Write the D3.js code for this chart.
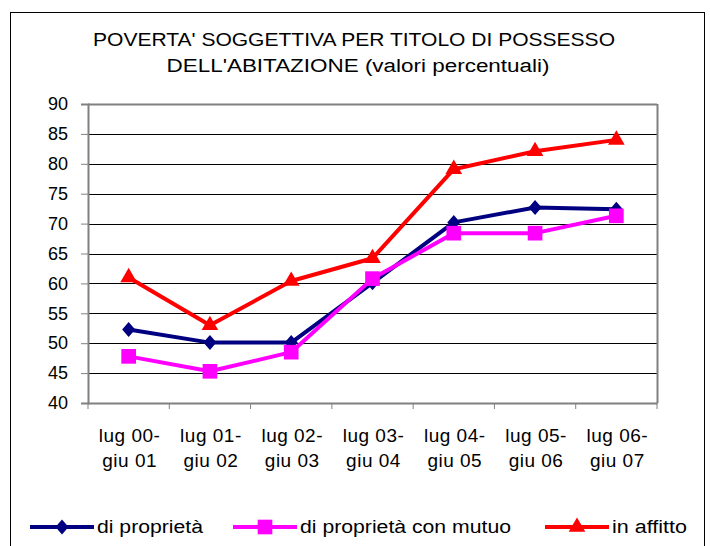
<!DOCTYPE html>
<html>
<head>
<meta charset="utf-8">
<script src="https://cdn.jsdelivr.net/npm/d3@7"></script>
<style>
  body { margin: 0; background: #fff; }
  svg text { font-family: "Liberation Sans", Arial, sans-serif; fill: #000; }
</style>
</head>
<body>
<div id="chart"></div>
<script>
const width = 710;
const height = 546;

// data
const categories = ['lug 00-|giu 01', 'lug 01-|giu 02', 'lug 02-|giu 03', 'lug 03-|giu 04',
                    'lug 04-|giu 05', 'lug 05-|giu 06', 'lug 06-|giu 07'];
const diProprieta = [52.3, 50.1, 50.1, 60.1, 70.2, 72.7, 72.4];
const conMutuo = [47.8, 45.3, 48.5, 60.8, 68.4, 68.4, 71.3];
const inAffitto = [61.0, 53.0, 60.4, 64.2, 79.1, 82.1, 84.0];
const yTicks = [40, 45, 50, 55, 60, 65, 70, 75, 80, 85, 90];

const series = [
  { name: 'di proprietà', values: diProprieta, color: '#000080', shape: d3.symbolDiamond2, size: 143, sx: 0.87 },
  { name: 'di proprietà con mutuo', values: conMutuo, color: '#ff00ff', shape: d3.symbolSquare, size: 215, sx: 1 },
  { name: 'in affitto', values: inAffitto, color: '#ff0000', shape: d3.symbolTriangle, size: 120, sx: 1 }
];

const margin = { left: 88, right: 53, top: 104, bottom: 143 };

const svg = d3.select('#chart')
  .append('svg')
  .attr('width', width)
  .attr('height', height);

// outer frame
svg.append('rect')
  .attr('x', 10.5).attr('y', 12.5)
  .attr('width', 694).attr('height', 560)
  .attr('fill', 'none').attr('stroke', '#000').attr('stroke-width', 1);

// title
svg.append('text')
  .attr('x', 354).attr('y', 46)
  .attr('text-anchor', 'middle')
  .attr('textLength', 522).attr('lengthAdjust', 'spacingAndGlyphs')
  .style('font-size', '18px')
  .text("POVERTA' SOGGETTIVA PER TITOLO DI POSSESSO");
svg.append('text')
  .attr('x', 358).attr('y', 72)
  .attr('text-anchor', 'middle')
  .attr('textLength', 383).attr('lengthAdjust', 'spacingAndGlyphs')
  .style('font-size', '18px')
  .text("DELL'ABITAZIONE (valori percentuali)");

const xScale = d3.scaleBand()
  .domain(categories)
  .range([margin.left, width - margin.right]);

const yScale = d3.scaleLinear()
  .domain([40, 90])
  .range([height - margin.bottom, margin.top]);

// grid lines
svg.append('g')
  .selectAll('line')
  .data(yTicks.slice(1))
  .enter()
  .append('line')
  .attr('x1', margin.left).attr('x2', width - margin.right)
  .attr('y1', d => Math.round(yScale(d)) + 0.5)
  .attr('y2', d => Math.round(yScale(d)) + 0.5)
  .attr('stroke', d => d === 90 ? '#808080' : '#000')
  .attr('stroke-width', d => d === 90 ? 2 : 1);

// plot border (right side gray)
svg.append('line')
  .attr('x1', width - margin.right + 0.5).attr('x2', width - margin.right + 0.5)
  .attr('y1', margin.top).attr('y2', height - margin.bottom)
  .attr('stroke', '#808080').attr('stroke-width', 2);

// y axis
const yAxis = d3.axisLeft(yScale).tickValues(yTicks).tickSize(7).tickPadding(13);
const gy = svg.append('g')
  .attr('transform', 'translate(' + margin.left + ',0)')
  .call(yAxis);
gy.select('.domain').attr('stroke', '#808080').attr('stroke-width', 2);
gy.selectAll('.tick line').attr('stroke', '#808080');
gy.selectAll('.tick text').style('font-size', '18px').attr('fill', '#000');

// x axis
const xAxis = d3.axisBottom(xScale).tickSize(0).tickFormat('');
const gx = svg.append('g')
  .attr('transform', 'translate(0,' + (height - margin.bottom) + ')')
  .call(xAxis);
gx.select('.domain').attr('stroke', '#808080').attr('stroke-width', 2);

gx.selectAll('.boundary')
  .data(categories.concat(['end']))
  .enter()
  .append('line')
  .attr('x1', (d, i) => margin.left + i * xScale.bandwidth())
  .attr('x2', (d, i) => margin.left + i * xScale.bandwidth())
  .attr('y1', 0).attr('y2', 6)
  .attr('stroke', '#808080').attr('stroke-width', 1);

const xLabels = svg.append('g')
  .selectAll('text')
  .data(categories)
  .enter()
  .append('text')
  .attr('text-anchor', 'middle')
  .style('font-size', '19px')
  .style('letter-spacing', '0.5px');
xLabels.each(function (d) {
  const parts = d.split('|');
  const cx = xScale(d) + xScale.bandwidth() / 2 + 1;
  const t = d3.select(this);
  t.append('tspan').attr('x', cx).attr('y', 442).text(parts[0]);
  t.append('tspan').attr('x', cx).attr('y', 467).text(parts[1]);
});

// lines and markers
const line = d3.line()
  .x((d, i) => xScale(categories[i]) + xScale.bandwidth() / 2)
  .y(d => yScale(d));

series.forEach(s => {
  svg.append('path')
    .datum(s.values)
    .attr('d', line)
    .attr('fill', 'none')
    .attr('stroke', s.color)
    .attr('stroke-width', 4)
    .attr('stroke-linejoin', 'round');
});

series.forEach(s => {
  svg.append('g')
    .selectAll('path')
    .data(s.values)
    .enter()
    .append('path')
    .attr('d', d3.symbol().type(s.shape).size(s.size))
    .attr('transform', (d, i) => 'translate(' + (xScale(categories[i]) + xScale.bandwidth() / 2) + ',' + yScale(d) + ') scale(' + s.sx + ',1)')
    .attr('fill', s.color);
});

// legend
const legendX = [30, 233, 545];
const legendLen = [106, 211, 75];
const legend = svg.append('g')
  .selectAll('g')
  .data(series)
  .enter()
  .append('g')
  .attr('transform', (d, i) => 'translate(' + legendX[i] + ',527)');
legend.append('line')
  .attr('x1', 0).attr('x2', 64).attr('y1', 0).attr('y2', 0)
  .attr('stroke', d => d.color).attr('stroke-width', 4);
legend.append('path')
  .attr('d', d => d3.symbol().type(d.shape).size(d.size)())
  .attr('transform', d => 'translate(32,0) scale(' + d.sx + ',1)')
  .attr('fill', d => d.color);
legend.append('text')
  .attr('x', 67).attr('y', 6)
  .attr('textLength', (d, i) => legendLen[i])
  .attr('lengthAdjust', 'spacingAndGlyphs')
  .style('font-size', '18px')
  .text(d => d.name);
</script>
</body>
</html>
